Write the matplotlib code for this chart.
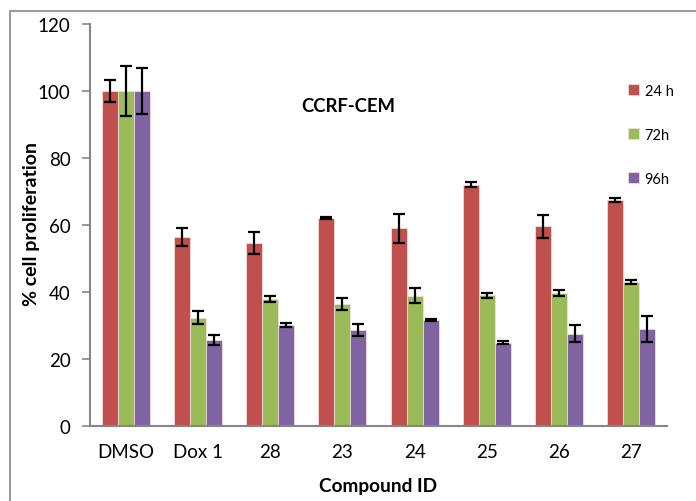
import matplotlib
matplotlib.use("Agg")
import matplotlib.pyplot as plt
import numpy as np
from matplotlib.patches import Rectangle

plt.rcParams['font.family'] = ['Lato', 'DejaVu Sans']

categories = ["DMSO", "Dox 1", "28", "23", "24", "25", "26", "27"]
series_names = ["24 h", "72h", "96h"]
v24 = [100, 56.3, 54.5, 62.1, 59.0, 72.0, 59.6, 67.5]
e24 = [3.3, 2.7, 3.3, 0.4, 4.4, 0.8, 3.5, 0.6]
v72 = [100, 32.3, 37.9, 36.3, 38.9, 39.0, 39.7, 43.0]
e72 = [7.5, 2.0, 1.0, 1.8, 2.3, 0.8, 0.8, 0.6]
v96 = [100, 25.7, 30.1, 28.7, 31.6, 24.9, 27.6, 29.0]
e96 = [7.0, 1.5, 0.6, 1.8, 0.3, 0.4, 2.5, 3.8]
colors = ["#C0504D", "#9BBB59", "#8064A2"]

W, H = 696, 502
fig = plt.figure(figsize=(6.96, 5.02), dpi=100)
ax = fig.add_axes([90/W, 1-427/H, (667-90)/W, (427-25)/H])

x = np.arange(len(categories))
w = 0.222
for i, (vals, errs, name, c) in enumerate(zip([v24, v72, v96], [e24, e72, e96], series_names, colors)):
    ax.bar(x + (i-1)*w, vals, w, color=c, edgecolor="#f0dede", linewidth=0.6, label=name, zorder=2)
    ax.errorbar(x + (i-1)*w, vals, yerr=errs, fmt='none', ecolor='black', elinewidth=1.6,
                capsize=4.5, capthick=1.6, zorder=3)

ax.set_xlim(-0.5, 7.5)
ax.set_ylim(0, 120)
ax.set_yticks(range(0, 121, 20))
ax.set_xticks(x)
ax.set_xticklabels(categories)
ax.tick_params(axis='x', length=0, labelsize=13.5, pad=12)
ax.tick_params(axis='y', length=6, width=1.2, color='#868686', labelsize=13.5, pad=8)
for s in ['top', 'right']:
    ax.spines[s].set_visible(False)
for s in ['left', 'bottom']:
    ax.spines[s].set_color('#868686')
    ax.spines[s].set_linewidth(1.5)

fig.text(32/W, 1-224/H, "% cell proliferation", rotation=90, fontsize=14, fontweight='bold',
         ha='center', va='center')
fig.text(378/W, 1-487/H, "Compound ID", fontsize=13.7, fontweight='bold', ha='center', va='center')
fig.text(348.5/W, 1-106.7/H, "CCRF-CEM", fontsize=13.3, fontweight='bold', ha='center', va='center')

leg = ax.legend(loc='upper left', bbox_to_anchor=(622/W, 1-79/H), bbox_transform=fig.transFigure,
                frameon=False, fontsize=10.5,
                handlelength=0.75, handleheight=0.75, labelspacing=2.05, handletextpad=0.4,
                borderaxespad=0)

fig.patches.append(Rectangle((10/W, -0.1), 1.2, 1-12/H+0.1, transform=fig.transFigure,
                             fill=False, edgecolor='#868686', linewidth=1.2))

fig.savefig("out.png", dpi=100)
